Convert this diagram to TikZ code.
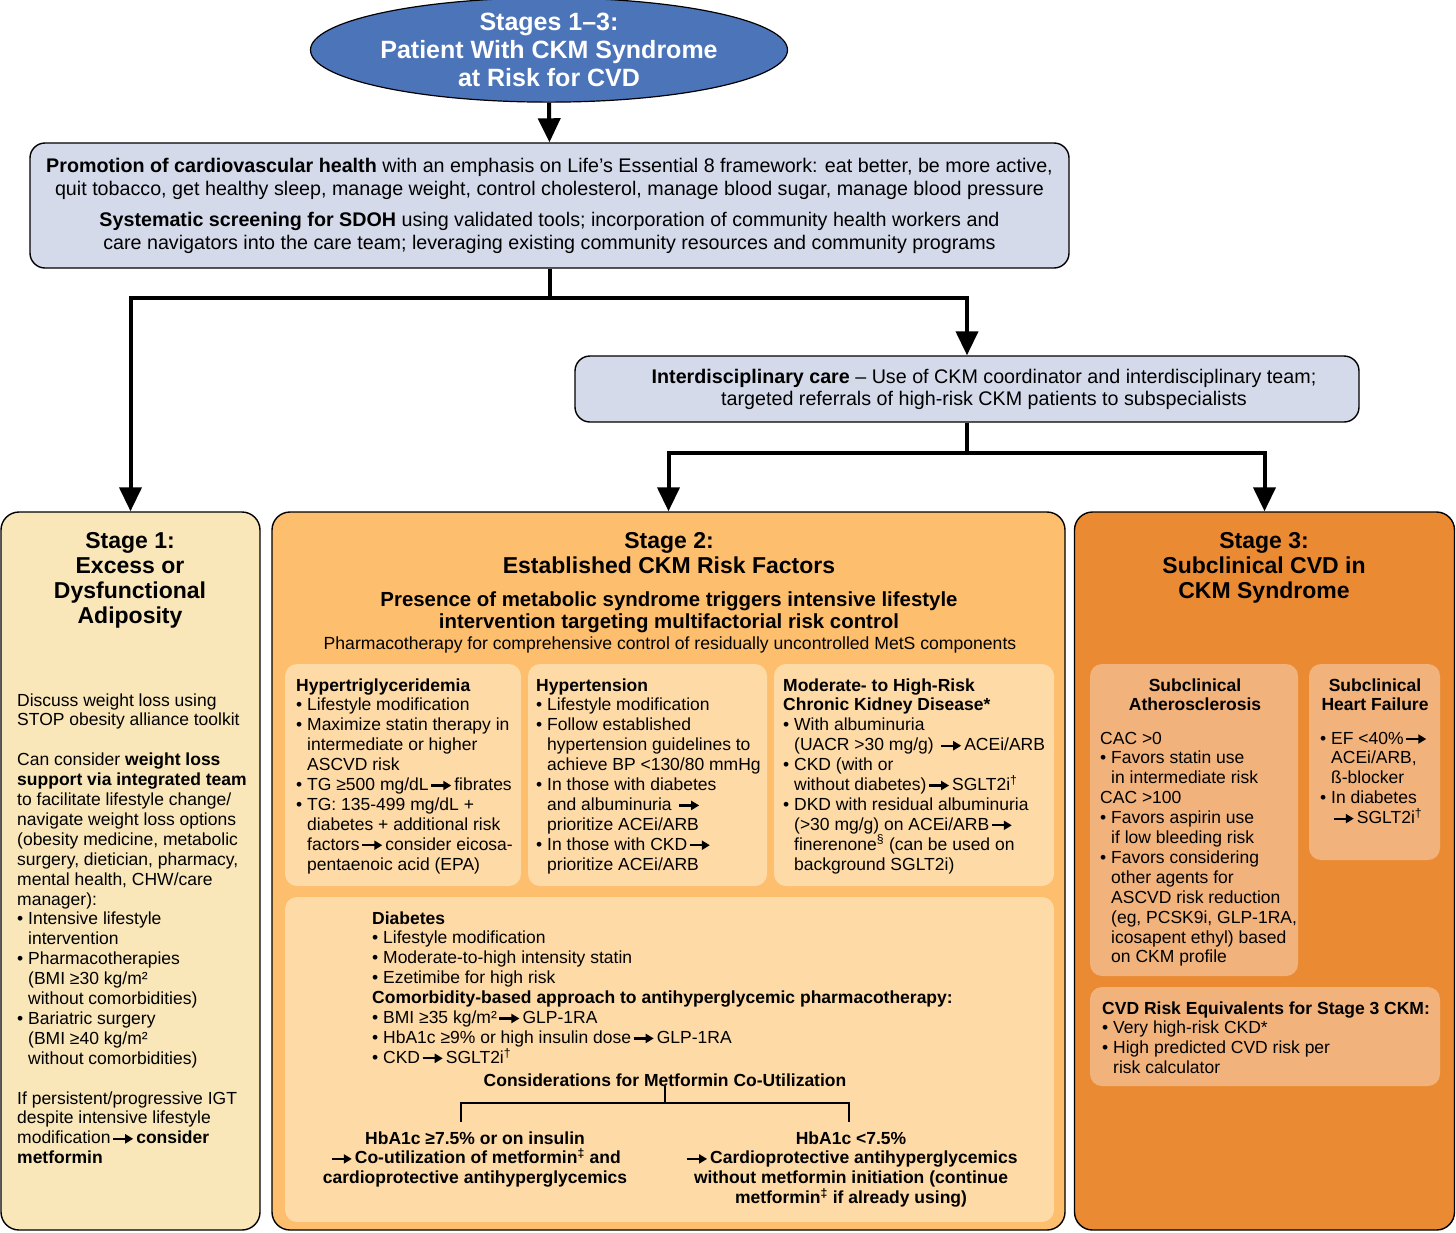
\documentclass[tikz,border=0pt]{standalone}
\usepackage{fontspec}
\setmainfont{Liberation Sans}
\usetikzlibrary{shapes.geometric,arrows.meta,calc}

\definecolor{blu}{HTML}{4C74B9}
\definecolor{lilla}{HTML}{D5DAEA}
\definecolor{giallo}{HTML}{F9E6B9}
\definecolor{arancio}{HTML}{FDBE6E}
\definecolor{aranciochiaro}{HTML}{FEDAA6}
\definecolor{aranciocupo}{HTML}{EA8A33}
\definecolor{salmone}{HTML}{F1B27C}

\newcommand{\freccia}{\hspace{1.5pt}\tikz[baseline=-5pt]\draw[line width=2.2pt,-{Triangle[length=8pt,width=9pt]}] (0,0) -- (20pt,0);\hspace{2pt}}
\newcommand{\rientro}{\hphantom{•\ }}

\begin{document}
\begin{tikzpicture}[x=1pt,y=-1pt,
  scatola/.style={draw=black,line width=1.4pt,rounded corners=18pt,inner sep=0pt},
  riquadro/.style={rounded corners=12pt,inner sep=0pt},
  corpo/.style={anchor=base west,align=left,inner sep=0pt,font=\fontsize{17.5}{19.9}\selectfont},
  centrato/.style={anchor=base,align=center,inner sep=0pt,font=\fontsize{17.5}{19.9}\selectfont\bfseries},
  titolo/.style={anchor=base,align=center,inner sep=0pt,font=\fontsize{23}{25}\selectfont\bfseries},
  linea/.style={line width=4pt},
  lineafr/.style={line width=4pt,-{Triangle[length=24pt,width=22pt]}}]

\useasboundingbox (0,0) rectangle (1456,1232);

% testa
\node[ellipse,draw=black,line width=1.2pt,fill=blu,text=white,inner sep=0pt,
  minimum width=477pt,minimum height=94pt,align=center,
  font=\fontsize{25}{28}\selectfont\bfseries] (pz) at (549,50)
  {Stages 1–3:\\Patient With CKM Syndrome\\at Risk for CVD};

\node[scatola,fill=lilla,rounded corners=15pt,minimum width=1039pt,minimum height=125pt,
  align=center,font=\fontsize{19.7}{23}\selectfont] (salute) at (549.5,205.5)
  {\textbf{Promotion of cardiovascular health} with an emphasis on Life’s Essential 8 framework: eat better, be more active,\\
   quit tobacco, get healthy sleep, manage weight, control cholesterol, manage blood sugar, manage blood pressure\\[8pt]
   \textbf{Systematic screening for SDOH} using validated tools; incorporation of community health workers and\\
   care navigators into the care team; leveraging existing community resources and community programs};

\node[scatola,fill=lilla,rounded corners=15pt,minimum width=784pt,minimum height=66pt] (inter) at (967,389) {};
\node[align=center,inner sep=0pt,font=\fontsize{19.7}{22}\selectfont] (intertxt) at (984,389)
  {\textbf{Interdisciplinary care} – Use of CKM coordinator and interdisciplinary team;\\
   targeted referrals of high-risk CKM patients to subspecialists};

% tre stadi
\node[scatola,fill=giallo,minimum width=259pt,minimum height=718pt] (s1) at (130.5,871) {};
\node[scatola,fill=arancio,minimum width=793pt,minimum height=718pt] (s2) at (668.5,871) {};
\node[scatola,fill=aranciocupo,minimum width=380pt,minimum height=718pt] (s3) at (1264.5,871) {};

\draw[lineafr] (pz.south) -- (salute.north);
\path (salute.south) -- ++(0,29) coordinate (j1);
\draw[linea] (salute.south) -- (j1);
\draw[lineafr] (j1) -| (s1.north);
\draw[lineafr] (j1) -| (inter.north);
\path (inter.south) -- ++(0,30) coordinate (j2);
\draw[linea] (inter.south) -- (j2);
\draw[lineafr] (j2) -| (s2.north);
\draw[lineafr] (j2) -| (s3.north);

% stadio 1 (base = ultima riga)
\node[titolo] (t1) at (130,623) {Stage 1:\\Excess or\\Dysfunctional\\Adiposity};
\node[corpo] (c1) at (17,1163.7)
  {Discuss weight loss using\\
   STOP obesity alliance toolkit\\[19.9pt]
   Can consider \textbf{weight loss}\\
   \textbf{support via integrated team}\\
   to facilitate lifestyle change/\\
   navigate weight loss options\\
   (obesity medicine, metabolic\\
   surgery, dietician, pharmacy,\\
   mental health, CHW/care\\
   manager):\\
   •\ Intensive lifestyle\\
   \rientro intervention\\
   •\ Pharmacotherapies\\
   \rientro (BMI ≥30 kg/m²\\
   \rientro without comorbidities)\\
   •\ Bariatric surgery\\
   \rientro (BMI ≥40 kg/m²\\
   \rientro without comorbidities)\\[19.9pt]
   If persistent/progressive IGT\\
   despite intensive lifestyle\\
   modification\freccia\textbf{consider}\\
   \textbf{metformin}};

% stadio 2
\node[titolo] (t2) at (669,573) {Stage 2:\\Established CKM Risk Factors};
\node[anchor=base,align=center,inner sep=0pt,font=\fontsize{20.4}{22}\selectfont\bfseries] (mets) at (669,628)
  {Presence of metabolic syndrome triggers intensive lifestyle\\intervention targeting multifactorial risk control};
\node[anchor=base,inner sep=0pt,font=\fontsize{17.6}{20}\selectfont] (farm) at (670,649)
  {Pharmacotherapy for comprehensive control of residually uncontrolled MetS components};

\node[riquadro,fill=aranciochiaro,minimum width=236pt,minimum height=222pt] (ipt) at (403,775) {};
\node[riquadro,fill=aranciochiaro,minimum width=239pt,minimum height=222pt] (ipr) at (647.5,775) {};
\node[riquadro,fill=aranciochiaro,minimum width=280pt,minimum height=222pt] (ckd) at (914,775) {};
\node[riquadro,fill=aranciochiaro,minimum width=769pt,minimum height=325pt] (dia) at (669.5,1059.5) {};

\node[corpo] (ipttxt) at (296,870.1)
  {\textbf{Hypertriglyceridemia}\\
   •\ Lifestyle modification\\
   •\ Maximize statin therapy in\\
   \rientro intermediate or higher\\
   \rientro ASCVD risk\\
   •\ TG ≥500 mg/dL\freccia fibrates\\
   •\ TG: 135-499 mg/dL +\\
   \rientro diabetes + additional risk\\
   \rientro factors\freccia consider eicosa-\\
   \rientro pentaenoic acid (EPA)};
\node[corpo] (iprtxt) at (536,870.1)
  {\textbf{Hypertension}\\
   •\ Lifestyle modification\\
   •\ Follow established\\
   \rientro hypertension guidelines to\\
   \rientro achieve BP <130/80 mmHg\\
   •\ In those with diabetes\\
   \rientro and albuminuria \freccia\\
   \rientro prioritize ACEi/ARB\\
   •\ In those with CKD\freccia\\
   \rientro prioritize ACEi/ARB};
\node[corpo] (ckdtxt) at (783,870.1)
  {\textbf{Moderate- to High-Risk}\\
   \textbf{Chronic Kidney Disease*}\\
   •\ With albuminuria\\
   \rientro (UACR >30 mg/g) \freccia ACEi/ARB\\
   •\ CKD (with or\\
   \rientro without diabetes)\freccia SGLT2i\textsuperscript{†}\\
   •\ DKD with residual albuminuria\\
   \rientro (>30 mg/g) on ACEi/ARB\freccia\\
   \rientro finerenone\textsuperscript{§} (can be used on\\
   \rientro background SGLT2i)};
\node[corpo] (diatxt) at (372,1063.3)
  {\textbf{Diabetes}\\
   •\ Lifestyle modification\\
   •\ Moderate-to-high intensity statin\\
   •\ Ezetimibe for high risk\\
   \textbf{Comorbidity-based approach to antihyperglycemic pharmacotherapy:}\\
   •\ BMI ≥35 kg/m²\freccia GLP-1RA\\
   •\ HbA1c ≥9\% or high insulin dose\freccia GLP-1RA\\
   •\ CKD\freccia SGLT2i\textsuperscript{†}};
\node[centrato] (consid) at (665,1086)
  {Considerations for Metformin Co-Utilization};
\node[centrato] (metsi) at (475,1183.8)
  {HbA1c ≥7.5\% or on insulin\\
   \freccia Co-utilization of metformin\textsuperscript{‡} and\\
   cardioprotective antihyperglycemics};
\node[centrato] (metno) at (851,1203.7)
  {HbA1c <7.5\%\\
   \freccia Cardioprotective antihyperglycemics\\
   without metformin initiation (continue\\
   metformin\textsuperscript{‡} if already using)};
\coordinate (bsx) at (461,1122);
\coordinate (bdx) at (849,1122);
\draw[line width=2pt] (consid.south) -- ++(0,17) coordinate (bk);
\draw[line width=2pt] (bsx) |- (bk) -| (bdx);

% stadio 3
\node[titolo] (t3) at (1264,598) {Stage 3:\\Subclinical CVD in\\CKM Syndrome};
\node[riquadro,fill=salmone,minimum width=208pt,minimum height=312pt] (ate) at (1194,820) {};
\node[riquadro,fill=salmone,minimum width=131pt,minimum height=196pt] (hf) at (1374.5,762) {};
\node[riquadro,fill=salmone,minimum width=350pt,minimum height=99pt] (equiv) at (1265,1036.5) {};

\node[centrato] (atetit) at (1195,710.9) {Subclinical\\Atherosclerosis};
\node[corpo] (atetxt) at (1100,962.9)
  {CAC >0\\
   •\ Favors statin use\\
   \rientro in intermediate risk\\
   CAC >100\\
   •\ Favors aspirin use\\
   \rientro if low bleeding risk\\
   •\ Favors considering\\
   \rientro other agents for\\
   \rientro ASCVD risk reduction\\
   \rientro (eg, PCSK9i, GLP-1RA,\\
   \rientro icosapent ethyl) based\\
   \rientro on CKM profile};
\node[centrato] (hftit) at (1375,710.9) {Subclinical\\Heart Failure};
\node[corpo] (hftxt) at (1320,823.6)
  {•\ EF <40\%\freccia\\
   \rientro ACEi/ARB,\\
   \rientro ß-blocker\\
   •\ In diabetes\\
   \rientro\freccia SGLT2i\textsuperscript{†}};
\node[corpo] (equivtxt) at (1102,1073.7)
  {\textbf{CVD Risk Equivalents for Stage 3 CKM:}\\
   •\ Very high-risk CKD*\\
   •\ High predicted CVD risk per\\
   \rientro risk calculator};

\end{tikzpicture}
\end{document}
